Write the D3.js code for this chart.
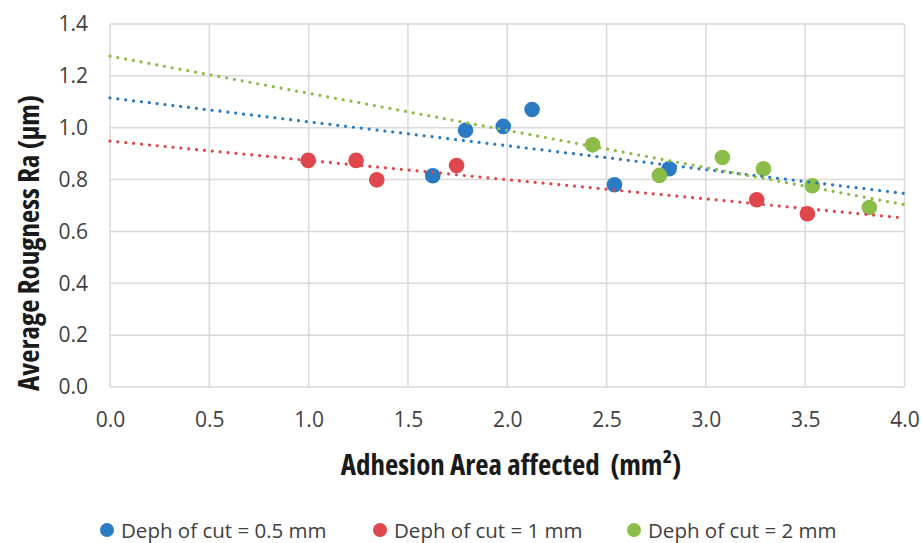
<!DOCTYPE html>
<html>
<head>
<meta charset="utf-8">
<script src="https://cdn.jsdelivr.net/npm/d3@7"></script>
<style>
  html, body { margin: 0; padding: 0; background: #fff; }
  svg { display: block; }
  text { font-family: "Open Sans", "Noto Sans", sans-serif; }
  .title { font-stretch: 87.5%; white-space: pre; }
</style>
</head>
<body>
<svg id="chart" width="922" height="543"></svg>
<script>
// ---- data ----
const seriesNames = ["Deph of cut = 0.5 mm", "Deph of cut = 1 mm", "Deph of cut = 2 mm"];
const seriesColors = ["#2a7bc4", "#e0474c", "#8cbd48"];

const blueX = [1.625, 1.79, 1.98, 2.125, 2.54, 2.815];
const blueY = [0.815, 0.99, 1.005, 1.07, 0.78, 0.842];

const redX = [0.998, 1.239, 1.343, 1.745, 3.256, 3.511];
const redY = [0.874, 0.874, 0.799, 0.854, 0.722, 0.668];

const greenX = [2.43, 2.766, 3.083, 3.29, 3.536, 3.823];
const greenY = [0.934, 0.816, 0.885, 0.842, 0.776, 0.692];

const xTicks = [0, 0.5, 1, 1.5, 2, 2.5, 3, 3.5, 4];
const yTicks = [0, 0.2, 0.4, 0.6, 0.8, 1.0, 1.2, 1.4];

const xTitle = "Adhesion Area affected  (mm²)";
const yTitle = "Average Rougness Ra (µm)";

// ---- build ----
const series = [
  { name: seriesNames[0], color: seriesColors[0], xs: blueX, ys: blueY },
  { name: seriesNames[1], color: seriesColors[1], xs: redX, ys: redY },
  { name: seriesNames[2], color: seriesColors[2], xs: greenX, ys: greenY }
];

const svg = d3.select("#chart");
const x = d3.scaleLinear().domain([0, 4]).range([110, 904.5]);
const y = d3.scaleLinear().domain([0, 1.4]).range([387, 24]);

// gridlines
const grid = svg.append("g");
grid.selectAll("line.v").data(xTicks).join("line")
  .attr("x1", d => x(d)).attr("x2", d => x(d))
  .attr("y1", y(1.4)).attr("y2", y(0))
  .attr("stroke", "#d9d9d9").attr("stroke-width", 1.5);
grid.selectAll("line.h").data(yTicks).join("line")
  .attr("x1", x(0)).attr("x2", x(4))
  .attr("y1", d => y(d)).attr("y2", d => y(d))
  .attr("stroke", "#d9d9d9").attr("stroke-width", 1.5);

// axes
const fmt = d3.format(".1f");
const xAxis = svg.append("g").attr("transform", `translate(0,${y(0)})`)
  .call(d3.axisBottom(x).tickValues(xTicks).tickFormat(fmt).tickSize(0).tickPadding(25));
const yAxis = svg.append("g").attr("transform", `translate(${x(0)},0)`)
  .call(d3.axisLeft(y).tickValues(yTicks).tickFormat(fmt).tickSize(0).tickPadding(22));
[xAxis, yAxis].forEach(a => {
  a.select(".domain").remove();
  a.selectAll("text").attr("font-family", "Open Sans").attr("font-size", 21).attr("fill", "#404040");
});

// points
series.forEach(s => {
  svg.append("g").selectAll("circle").data(s.xs.map((v, i) => [v, s.ys[i]])).join("circle")
    .attr("cx", d => x(d[0])).attr("cy", d => y(d[1])).attr("r", 7.8)
    .attr("fill", s.color);
});

// linear trendlines (least squares of each series)
series.forEach(s => {
  const n = s.xs.length;
  const mx = d3.mean(s.xs), my = d3.mean(s.ys);
  let sxy = 0, sxx = 0;
  for (let i = 0; i < n; i++) { sxy += (s.xs[i] - mx) * (s.ys[i] - my); sxx += (s.xs[i] - mx) ** 2; }
  const b = sxy / sxx, a = my - b * mx;
  svg.append("line")
    .attr("x1", x(0)).attr("y1", y(a))
    .attr("x2", x(4)).attr("y2", y(a + b * 4))
    .attr("stroke", s.color).attr("stroke-width", 3.2)
    .attr("stroke-linecap", "round").attr("stroke-dasharray", "0.01 7.9");
});

// axis titles
function fitText(sel, target) {
  const w = sel.node().getComputedTextLength();
  const fs = parseFloat(sel.attr("font-size"));
  sel.attr("font-size", Math.min(29, fs * target / w));
}
const xt = svg.append("text").attr("class", "title").attr("x", 511).attr("y", 475).attr("text-anchor", "middle")
  .attr("font-weight", "bold").attr("font-size", 24).attr("fill", "#1a1a1a").text(xTitle);
fitText(xt, 352);
const yt = svg.append("text").attr("class", "title").attr("transform", "translate(39,243) rotate(-90)").attr("text-anchor", "middle")
  .attr("font-weight", "bold").attr("font-size", 24).attr("fill", "#1a1a1a").text(yTitle);
fitText(yt, 300);

// legend
const legendX = [107, 380, 634];
const legend = svg.append("g");
series.forEach((s, i) => {
  const g = legend.append("g").attr("transform", `translate(${legendX[i]},530)`);
  g.append("circle").attr("r", 7).attr("fill", s.color);
  g.append("text").attr("x", 14).attr("y", 7.5).attr("font-size", 20.5).attr("fill", "#404040").text(s.name);
});
</script>
</body>
</html>
